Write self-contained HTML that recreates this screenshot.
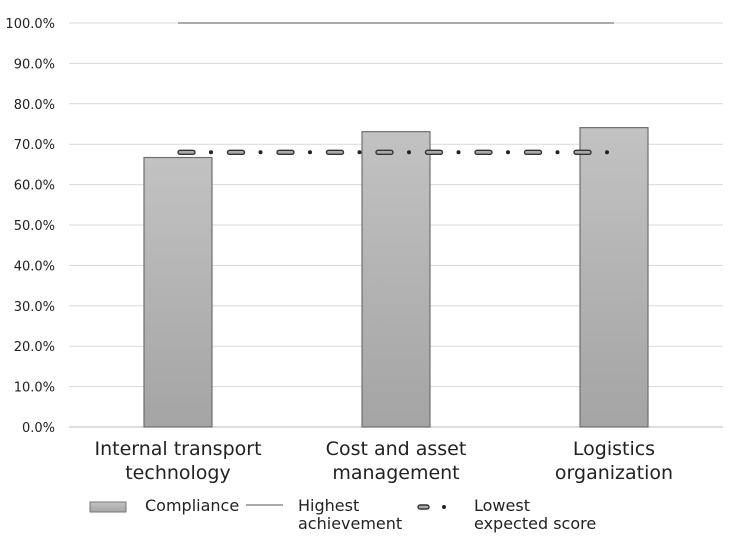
<!DOCTYPE html>
<html><head><meta charset="utf-8"><style>
body{margin:0;background:#fff;}
svg text{font-family:"DejaVu Sans","Liberation Sans",sans-serif;fill:#222;}
</style></head><body>
<svg id="chart" width="736" height="539" xmlns="http://www.w3.org/2000/svg">
<defs><linearGradient id="bg" x1="0" y1="0" x2="0" y2="1"><stop offset="0" stop-color="#c2c2c2"/><stop offset="1" stop-color="#a4a4a4"/></linearGradient></defs>
<g id="grid"></g><g id="marks"></g><g id="labels"></g>
<g>
<rect x="90" y="502" width="36" height="10" fill="url(#bg)" stroke="#777"/>
<text x="145" y="511" font-size="16">Compliance</text>
<line x1="246" y1="505" x2="283" y2="505" stroke="#aaa" stroke-width="2"/>
<text font-size="16"><tspan x="298" y="511">Highest</tspan><tspan x="298" y="529">achievement</tspan></text>
<rect x="418" y="505" width="11" height="4" rx="2" fill="#aaa" stroke="#333" stroke-width="1.4"/>
<circle cx="444" cy="507" r="2" fill="#222"/>
<text font-size="16"><tspan x="474" y="511">Lowest</tspan><tspan x="474" y="529">expected score</tspan></text>
</g>
</svg>
<script>
const categories=[["Internal transport","technology"],["Cost and asset","management"],["Logistics","organization"]];
const compliance=[66.7,73.1,74.1];
const highest=[100,100,100];
const lowest=[68,68,68];
const yTicks=[0,10,20,30,40,50,60,70,80,90,100];
const NS="http://www.w3.org/2000/svg";
const x0=69,x1=723,y0=427,y1=23;
const band=(x1-x0)/categories.length;
const xc=i=>x0+band*(i+0.5);
const y=v=>y0-(v/100)*(y0-y1);
function mk(tag,attrs,parent){const e=document.createElementNS(NS,tag);for(const k in attrs)e.setAttribute(k,attrs[k]);document.getElementById(parent).appendChild(e);return e;}
yTicks.forEach(t=>{
 const l=mk('line',{x1:x0,x2:x1,y1:y(t),y2:y(t),stroke:t===0?'#bbb':'#d9d9d9','stroke-width':1},'grid');
 
 
 const tx=mk('text',{x:55,y:y(t)+5,'text-anchor':'end','font-size':13},'labels');
 tx.textContent=t.toFixed(1)+'%';
 
 
});
compliance.forEach((v,i)=>{
 const r=mk('rect',{x:xc(i)-34,y:y(v),width:68,height:y0-y(v),fill:'url(#bg)',stroke:'#6e6e6e','stroke-width':1.2},'marks');
 
 
 const t=mk('text',{'text-anchor':'middle','font-size':19},'labels');
 
 
 categories[i].forEach((s,j)=>{const ts=document.createElementNS(NS,'tspan');ts.setAttribute('x',xc(i));ts.setAttribute('y',455+j*24);ts.textContent=s;t.appendChild(ts);});
});
for(let i=0;i<highest.length-1;i++){
 const l=mk('line',{x1:xc(i),x2:xc(i+1),y1:y(highest[i]),y2:y(highest[i+1]),stroke:'#aaa','stroke-width':2},'marks');
 
 
}
// continuous dash-dot pattern along the lowest-expected polyline
const n=lowest.length, xa=xc(0), xb=xc(n-1), period=49.5;
function yAt(px){const f=(px-xa)/band;const k=Math.min(n-2,Math.floor(f));const r=f-k;return y(lowest[k]+(lowest[k+1]-lowest[k])*r);}
for(let p=xa;p<xb-5;p+=period){
 const yy=yAt(p);
 const d=mk('rect',{x:p,y:yy-2,width:Math.min(17,xb-p),height:4,rx:2,fill:'#aaa',stroke:'#333','stroke-width':1.4},'marks');
 
 
 if(p+33<=xb){const c=mk('circle',{cx:p+33,cy:yAt(p+33),r:2,fill:'#222'},'marks');
 
 }
}
</script>
</body></html>
